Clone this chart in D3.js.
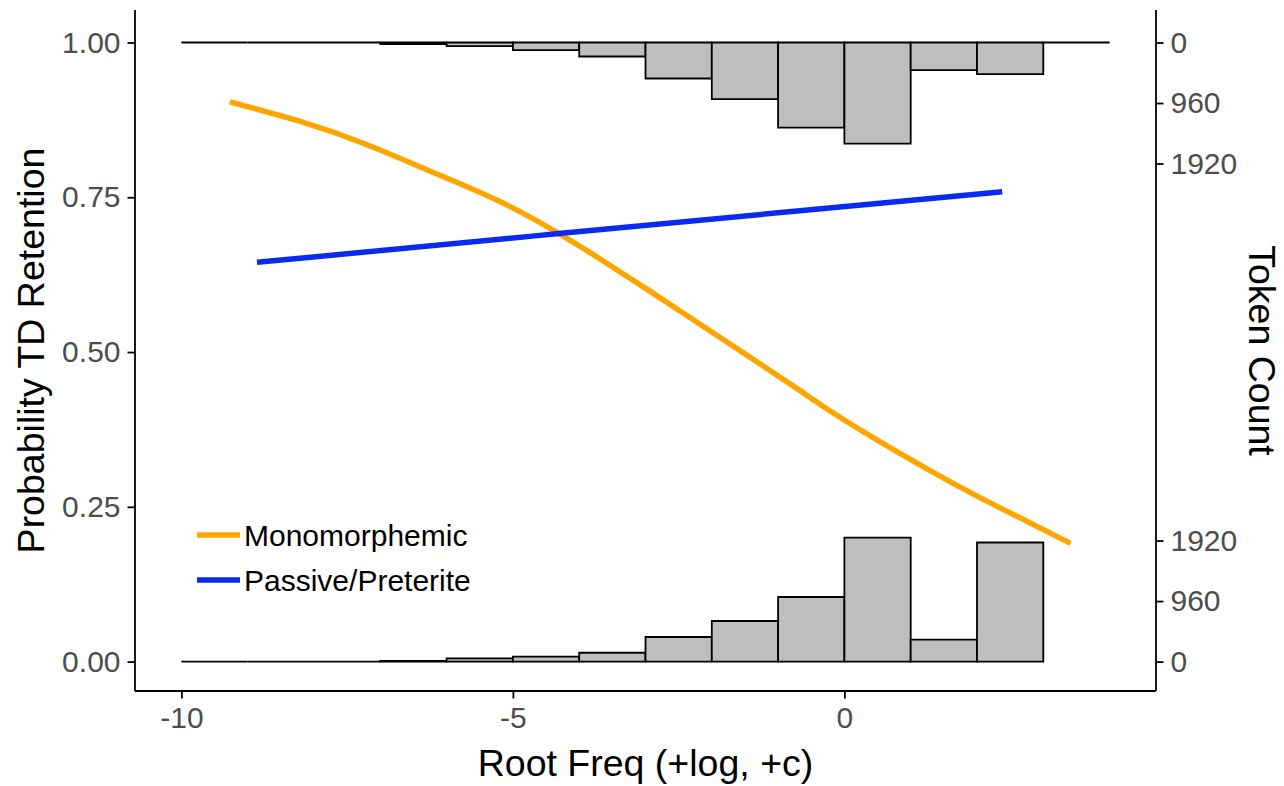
<!DOCTYPE html>
<html>
<head>
<meta charset="utf-8">
<script src="https://cdn.jsdelivr.net/npm/d3@7"></script>
<style>
  html, body { margin: 0; padding: 0; background: #ffffff; }
  svg { display: block; }
  text { font-family: "Liberation Sans", Arial, sans-serif; }
</style>
</head>
<body>
<svg id="chart" width="1284" height="786"></svg>
<script>
// ---------------- data ----------------
const binEdgesTop = [-10, -9, -8, -7, -6, -5, -4, -3, -2, -1, 0, 1, 2, 3, 4];
const topCounts   = [0, 0, 0, 25, 57, 120, 222, 571, 898, 1349, 1603, 438, 501, 0];
const binEdgesBottom = [-10, -9, -8, -7, -6, -5, -4, -3, -2, -1, 0, 1, 2, 3];
const bottomCounts   = [0, 0, 0, 10, 50, 80, 140, 390, 644, 1025, 1968, 349, 1889];

const monoX = [-9.27, -8.21, -7.21, -6.21, -5.20, -4.30, -3.69, -2.94, -2.19, -1.43, -0.68, -0.23, 0.53, 1.28, 2.03, 2.79, 3.41];
const monoY = [0.904, 0.874, 0.837, 0.790, 0.746, 0.692, 0.651, 0.599, 0.546, 0.492, 0.439, 0.405, 0.355, 0.309, 0.265, 0.225, 0.191];
const passX = [-8.86, -4.25, 0.00, 2.38];
const passY = [0.645, 0.692, 0.735, 0.759];

const seriesNames = ["Monomorphemic", "Passive/Preterite"];
const seriesColors = ["#FFA500", "#0A2AF2"];

const xTicks = [-10, -5, 0];
const yTicks = [0, 0.25, 0.5, 0.75, 1];
const countTicks = [0, 960, 1920];

// ---------------- layout ----------------
const panel = { left: 135, right: 1156, top: 10, bottom: 691 };
const svg = d3.select("#chart");
const FONT = "'Liberation Sans', Arial, sans-serif";
const TICK_FS = 30;
const TITLE_FS = 37.5;

const x = d3.scaleLinear().domain([-10.7, 4.7]).range([panel.left, panel.right]);
const y = d3.scaleLinear().domain([-0.0475, 1.0525]).range([panel.bottom, panel.top]);
const countSpan = 0.1955; // probability units equal to 1920 tokens
const yTopCount = d3.scaleLinear().domain([0, 1920]).range([y(1), y(1 - countSpan)]);
const yBotCount = d3.scaleLinear().domain([0, 1920]).range([y(0), y(countSpan)]);

// ---------------- histograms ----------------
function barPath(x0, x1, yBase, yVal) {
  return `M${x0},${yBase}L${x1},${yBase}L${x1},${yVal}L${x0},${yVal}Z`;
}
const gHist = svg.append("g");
const topBins = topCounts.map((c, i) => ({ x0: binEdgesTop[i], x1: binEdgesTop[i + 1], c }));
const botBins = bottomCounts.map((c, i) => ({ x0: binEdgesBottom[i], x1: binEdgesBottom[i + 1], c }));

gHist.selectAll("path.top").data(topBins).join("path")
  .attr("class", "top")
  .attr("d", d => barPath(x(d.x0), x(d.x1), yTopCount(0), yTopCount(d.c)))
  .attr("fill", "#BEBEBE").attr("stroke", "#000").attr("stroke-width", 1.8);

gHist.selectAll("path.bot").data(botBins).join("path")
  .attr("class", "bot")
  .attr("d", d => barPath(x(d.x0), x(d.x1), yBotCount(0), yBotCount(d.c)))
  .attr("fill", "#BEBEBE").attr("stroke", "#000").attr("stroke-width", 1.8);

// ---------------- curves ----------------
const line = d3.line().x(d => x(d[0])).y(d => y(d[1])).curve(d3.curveBasis);
const monoData = monoX.map((v, i) => [v, monoY[i]]);
const passData = passX.map((v, i) => [v, passY[i]]);
svg.append("path").attr("d", line(monoData)).attr("fill", "none")
  .attr("stroke", seriesColors[0]).attr("stroke-width", 5.5);
svg.append("path").attr("d", line(passData)).attr("fill", "none")
  .attr("stroke", seriesColors[1]).attr("stroke-width", 5.5);

// ---------------- axes ----------------
const tickColor = "#4D4D4D";
const axisStyle = g => {
  g.select(".domain").attr("stroke", "#000").attr("stroke-width", 1.8);
  g.selectAll(".tick line").attr("stroke", "#000").attr("stroke-width", 1.8);
  g.selectAll(".tick text").attr("fill", tickColor).style("font-size", TICK_FS + "px")
    .style("font-family", FONT);
};
const plain = d => String(d);

const xAxis = d3.axisBottom(x).tickValues(xTicks).tickSize(7.5).tickPadding(8)
  .tickFormat(plain).tickSizeOuter(0);
svg.append("g").attr("transform", `translate(0,${panel.bottom})`).call(xAxis).call(axisStyle)
  .call(g => g.select(".domain").attr("d", `M${panel.left},0H${panel.right}`));

const yAxis = d3.axisLeft(y).tickValues(yTicks).tickSize(7.5).tickPadding(7)
  .tickFormat(d3.format(".2f")).tickSizeOuter(0);
svg.append("g").attr("transform", `translate(${panel.left},0)`).call(yAxis).call(axisStyle)
  .call(g => g.select(".domain").attr("d", `M0,${panel.top}V${panel.bottom}`));

const gRight = svg.append("g").attr("transform", `translate(${panel.right},0)`);
gRight.append("path").attr("d", `M0,${panel.top}V${panel.bottom}`)
  .attr("stroke", "#000").attr("stroke-width", 1.8);
const rTop = d3.axisRight(yTopCount).tickValues(countTicks).tickSize(7.5).tickPadding(7)
  .tickFormat(plain).tickSizeOuter(0);
const rBot = d3.axisRight(yBotCount).tickValues(countTicks).tickSize(7.5).tickPadding(7)
  .tickFormat(plain).tickSizeOuter(0);
gRight.append("g").call(rTop).call(axisStyle).call(g => g.select(".domain").remove());
gRight.append("g").call(rBot).call(axisStyle).call(g => g.select(".domain").remove());

// ---------------- titles ----------------
const midY = (panel.top + panel.bottom) / 2;
svg.append("text").attr("x", (panel.left + panel.right) / 2).attr("y", 776)
  .attr("text-anchor", "middle").style("font-size", TITLE_FS + "px").attr("fill", "#000")
  .text("Root Freq (+log, +c)");
svg.append("text").attr("transform", `translate(44,${midY}) rotate(-90)`)
  .attr("text-anchor", "middle").style("font-size", TITLE_FS + "px").attr("fill", "#000")
  .text("Probability TD Retention");
svg.append("text").attr("transform", `translate(1249,${midY}) rotate(90)`)
  .attr("text-anchor", "middle").style("font-size", TITLE_FS + "px").attr("fill", "#000")
  .text("Token Count");

// ---------------- legend ----------------
const legend = svg.append("g").attr("transform", "translate(197,535)");
seriesNames.forEach((name, i) => {
  const g = legend.append("g").attr("transform", `translate(0,${i * 45})`);
  g.append("line").attr("x1", 0).attr("x2", 43).attr("y1", 0).attr("y2", 0)
    .attr("stroke", seriesColors[i]).attr("stroke-width", 5.5);
  g.append("text").attr("x", 47).attr("y", 0).attr("dy", "0.36em")
    .style("font-size", TICK_FS + "px").attr("fill", "#000").text(name);
});
</script>
</body>
</html>
